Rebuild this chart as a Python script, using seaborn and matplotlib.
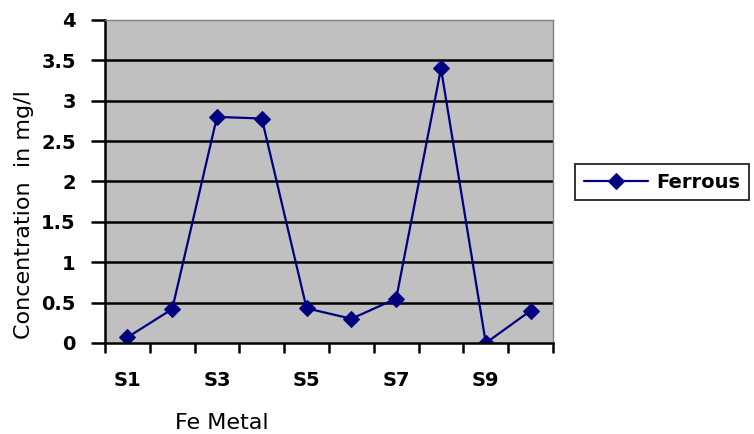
import matplotlib
matplotlib.use("Agg")
import matplotlib.pyplot as plt
import seaborn as sns
import pandas as pd
import numpy as np

samples = ["S1", "S2", "S3", "S4", "S5", "S6", "S7", "S8", "S9", "S10"]
ferrous = [0.07, 0.42, 2.80, 2.78, 0.43, 0.30, 0.55, 3.40, 0.00, 0.40]
shown_labels = ["S1", "S3", "S5", "S7", "S9"]
y_ticks = [0, 0.5, 1, 1.5, 2, 2.5, 3, 3.5, 4]
y_labels = ["0", "0.5", "1", "1.5", "2", "2.5", "3", "3.5", "4"]

df = pd.DataFrame({"Sample": samples, "Concentration": ferrous, "Series": "Ferrous"})

sns.set_style("white")
plt.rcParams["font.family"] = ["DejaVu Sans"]
plt.rcParams["text.color"] = "black"
plt.rcParams["axes.labelcolor"] = "black"
plt.rcParams["xtick.color"] = "black"
plt.rcParams["ytick.color"] = "black"

fig = plt.figure(figsize=(7.54, 4.34), dpi=100)
ax = fig.add_axes([105/754, 1-343/434, 448/754, 323/434])
ax.set_facecolor("#C0C0C0")

sns.lineplot(data=df, x="Sample", y="Concentration", hue="Series", palette=["#000080"],
             marker="D", markersize=8, markeredgecolor="#000080", linewidth=1.6,
             ax=ax, sort=False)

ax.set_xlim(-0.5, len(samples) - 0.5)
ax.set_ylim(0, 4)
ax.set_yticks(y_ticks)
ax.set_yticklabels(y_labels, fontsize=14, fontweight="bold", color="black")
for y in y_ticks[1:-1]:
    ax.axhline(y, color="black", linewidth=1.8, zorder=0.5)

# x ticks: boundaries as minor ticks, labels on odd samples
ax.set_xticks([samples.index(s) for s in shown_labels])
ax.set_xticklabels(shown_labels, fontsize=14, fontweight="bold", color="black")
ax.set_xticks(np.arange(-0.5, len(samples), 1.0), minor=True)
ax.tick_params(axis="x", which="major", bottom=True, length=0, pad=20)
ax.tick_params(axis="x", which="minor", bottom=True, length=7, width=1.8,
               color="black", direction="out")
ax.tick_params(axis="y", which="major", left=True, length=10, width=1.8,
               color="black", direction="out", pad=11)

for s in ["left", "bottom"]:
    ax.spines[s].set_color("black")
    ax.spines[s].set_linewidth(1.8)
for s in ["right", "top"]:
    ax.spines[s].set_color("#808080")
    ax.spines[s].set_linewidth(1)

ax.set_xlabel("Fe Metal", fontsize=16, color="black")
ax.xaxis.set_label_coords((222-105)/448, -(423-343)/323)
ax.xaxis.label.set_va("center")
ax.set_ylabel("Concentration  in mg/l", fontsize=16, color="black")
ax.yaxis.set_label_coords(-(105-24)/448, (343-215)/323)
ax.yaxis.label.set_va("center")

handles, labels = ax.get_legend_handles_labels()
leg = ax.legend(handles, labels, loc="center left", bbox_to_anchor=(575/754, 1-182/434),
                bbox_transform=fig.transFigure, frameon=True, fancybox=False,
                edgecolor="black", prop={"size": 14, "weight": "bold"},
                handlelength=3.3, handletextpad=0.45, borderpad=0.45, borderaxespad=0)
leg.get_frame().set_linewidth(1.4)
for t in leg.get_texts():
    t.set_color("black")

fig.savefig("out.png", dpi=100)
